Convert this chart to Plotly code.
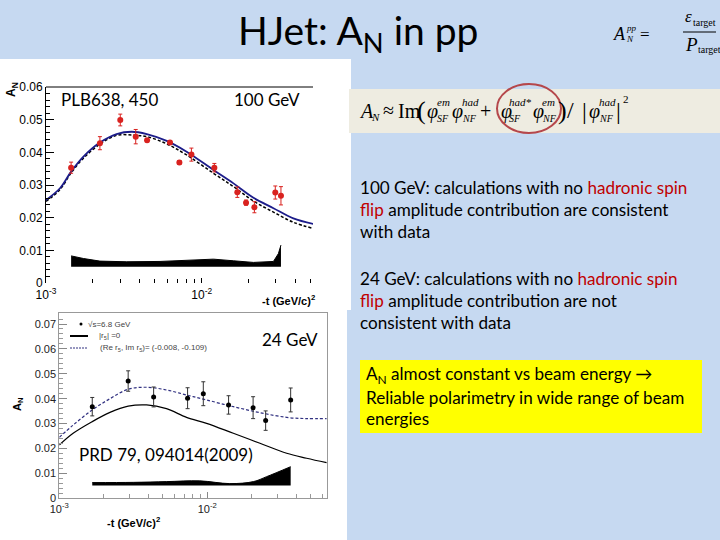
import plotly.graph_objects as go

# ---------------- data: 100 GeV (top panel) ----------------
t100 = [0.00145, 0.00222, 0.0030, 0.00377, 0.00446, 0.00626, 0.00719, 0.00859,
        0.01206, 0.01694, 0.01927, 0.0218, 0.0297, 0.0323]
an100 = [0.0353, 0.0428, 0.0499, 0.0448, 0.0437, 0.0430, 0.0369, 0.0393,
         0.0353, 0.0278, 0.0246, 0.0232, 0.0277, 0.0267]
err100 = [0.0017, 0.0020, 0.0018, 0.0022, 0.0005, 0.0005, 0.0006, 0.0020,
          0.0013, 0.0016, 0.0008, 0.0017, 0.0020, 0.0028]
tcurve100 = [0.001, 0.00123, 0.00145, 0.00174, 0.00222, 0.00284, 0.00355, 0.00444,
             0.00596, 0.0080, 0.0119, 0.0160, 0.0215, 0.0289, 0.0388, 0.0521]
blue100 = [0.0254, 0.0290, 0.0341, 0.0387, 0.0430, 0.0456, 0.0463, 0.0456,
           0.0435, 0.0402, 0.0346, 0.0305, 0.0261, 0.0229, 0.0198, 0.0181]
dash100 = [0.0250, 0.0286, 0.0337, 0.0382, 0.0425, 0.0452, 0.0453, 0.0448,
           0.0426, 0.0392, 0.0336, 0.0295, 0.0251, 0.0217, 0.0186, 0.0167]
tband100 = [0.00145, 0.00174, 0.00222, 0.0033, 0.0054, 0.0080, 0.0119, 0.0160,
            0.0215, 0.0289, 0.0311, 0.0323]
bandtop100 = [0.0083, 0.0075, 0.0067, 0.0065, 0.0066, 0.0070, 0.0073, 0.0068,
              0.0063, 0.0066, 0.0090, 0.0116]
bandlow100 = [0.0050] * len(tband100)

# ---------------- data: 24 GeV (bottom panel) ----------------
t24 = [0.00167, 0.00292, 0.00434, 0.00736, 0.00940, 0.01393, 0.0204, 0.0248, 0.0366]
an24 = [0.0368, 0.0471, 0.0407, 0.0402, 0.0420, 0.0375, 0.0364, 0.0312, 0.0395]
err24 = [0.0037, 0.0041, 0.0040, 0.0042, 0.0048, 0.0037, 0.0044, 0.0039, 0.0048]
tcurve24 = [0.001, 0.00124, 0.00167, 0.0022, 0.00292, 0.00389, 0.0053, 0.00724,
            0.00989, 0.0150, 0.0227, 0.0344, 0.0469, 0.0640]
dash24 = [0.0245, 0.0294, 0.0355, 0.0400, 0.0438, 0.0446, 0.0435, 0.0415,
          0.0395, 0.0368, 0.0344, 0.0325, 0.0320, 0.0320]
solid24 = [0.0214, 0.0261, 0.0308, 0.0345, 0.0370, 0.0375, 0.0360, 0.0325,
           0.0301, 0.0261, 0.0221, 0.0181, 0.0161, 0.0143]
tband24 = [0.00167, 0.00316, 0.0053, 0.0089, 0.0142, 0.0205, 0.0252, 0.0366]
bandtop24 = [0.0063, 0.0064, 0.0067, 0.0070, 0.0059, 0.0067, 0.0087, 0.0127]
bandlow24 = [0.0051] * len(tband24)

xmajor = [0.001, 0.01]
xmajor_text = ["10<sup>-3</sup>", "10<sup>-2</sup>"]
xminor = [0.002, 0.003, 0.004, 0.005, 0.006, 0.007, 0.008, 0.009,
          0.02, 0.03, 0.04, 0.05, 0.06]
ytop_vals = [0, 0.01, 0.02, 0.03, 0.04, 0.05, 0.06]
ytop_text = ["0", "0.01", "0.02", "0.03", "0.04", "0.05", "0.06"]
ybot_vals = [0, 0.01, 0.02, 0.03, 0.04, 0.05, 0.06, 0.07]
ybot_text = ["0", "0.01", "0.02", "0.03", "0.04", "0.05", "0.06", "0.07"]

BG = "#c6d9f1"
RED_TXT = "#c00000"
TXT_FONT = "Lato"


def X(px):
    return px / 720.0


def Y(py):
    return 1 - py / 540.0


fig = go.Figure()

# ---- top panel traces ----
fig.add_trace(go.Scatter(x=tband100, y=bandlow100, mode="lines", line=dict(color="black", width=0),
                         showlegend=False, xaxis="x", yaxis="y", hoverinfo="skip"))
fig.add_trace(go.Scatter(x=tband100, y=bandtop100, mode="lines", line=dict(color="black", width=1),
                         fill="tonexty", fillcolor="black", showlegend=False, xaxis="x", yaxis="y"))
fig.add_trace(go.Scatter(x=tcurve100, y=dash100, mode="lines", line=dict(color="black", width=1.5, dash="3px,2px"),
                         line_shape="spline", showlegend=False, xaxis="x", yaxis="y"))
fig.add_trace(go.Scatter(x=tcurve100, y=blue100, mode="lines", line=dict(color="#1c1c8a", width=1.8),
                         line_shape="spline", showlegend=False, xaxis="x", yaxis="y"))
fig.add_trace(go.Scatter(x=t100, y=an100, mode="markers", marker=dict(color="#d9221f", size=6),
                         error_y=dict(type="data", array=err100, color="#d9221f", thickness=1, width=2),
                         showlegend=False, xaxis="x", yaxis="y"))

# ---- bottom panel traces ----
fig.add_trace(go.Scatter(x=tband24, y=bandlow24, mode="lines", line=dict(color="black", width=0),
                         showlegend=False, xaxis="x2", yaxis="y2", hoverinfo="skip"))
fig.add_trace(go.Scatter(x=tband24, y=bandtop24, mode="lines", line=dict(color="black", width=1),
                         line_shape="spline", fill="tonexty", fillcolor="black", showlegend=False,
                         xaxis="x2", yaxis="y2"))
fig.add_trace(go.Scatter(x=tcurve24, y=solid24, mode="lines", line=dict(color="black", width=1.2),
                         line_shape="spline", showlegend=False, xaxis="x2", yaxis="y2"))
fig.add_trace(go.Scatter(x=tcurve24, y=dash24, mode="lines", line=dict(color="#303080", width=1.2, dash="3px,2px"),
                         line_shape="spline", showlegend=False, xaxis="x2", yaxis="y2"))
fig.add_trace(go.Scatter(x=t24, y=an24, mode="markers", marker=dict(color="black", size=5),
                         error_y=dict(type="data", array=err24, color="#333333", thickness=1, width=2),
                         showlegend=False, xaxis="x2", yaxis="y2"))

axfont_top = dict(family="Liberation Sans", size=12, color="black")
axfont_bot = dict(family="Liberation Sans", size=11, color="#222222")

fig.update_layout(
    width=720, height=540, margin=dict(l=0, r=0, t=0, b=0, autoexpand=False),
    paper_bgcolor=BG, plot_bgcolor="rgba(0,0,0,0)",
    xaxis=dict(type="log", range=[-3, -1.285], domain=[X(46), X(313)], anchor="y", automargin=False,
               tickmode="array", tickvals=xmajor, ticktext=xmajor_text, tickangle=0, ticklabelstandoff=3,
               ticks="inside", ticklen=5, tickcolor="black",
               minor=dict(tickmode="array", tickvals=xminor, ticks="inside", ticklen=4, tickcolor="black"),
               showline=False, showgrid=False, zeroline=False, tickfont=axfont_top),
    yaxis=dict(range=[0, 0.06], domain=[Y(283), Y(87)], anchor="x", automargin=False,
               tickmode="array", tickvals=ytop_vals, ticktext=ytop_text,
               ticks="inside", ticklen=8, tickcolor="black", showline=True, linecolor="black", linewidth=1,
               showgrid=False, zeroline=False, tickfont=axfont_top,
               minor=dict(dtick=0.002, ticks="inside", ticklen=4, tickcolor="black")),
    xaxis2=dict(type="log", range=[-3, -1.191], domain=[X(59.3), X(327)], anchor="y2", automargin=False,
                tickmode="array", tickvals=xmajor, ticktext=xmajor_text, tickangle=0,
                ticks="inside", ticklen=6, tickcolor="#888888",
                minor=dict(tickmode="array", tickvals=xminor, ticks="inside", ticklen=4, tickcolor="#999999"),
                showline=True, linecolor="#999999", linewidth=1, mirror=True,
                showgrid=False, zeroline=False, tickfont=axfont_bot),
    yaxis2=dict(range=[0, 0.0743], domain=[Y(498.3), Y(313.3)], anchor="x2", automargin=False,
                tickmode="array", tickvals=ybot_vals, ticktext=ybot_text,
                ticks="inside", ticklen=8, tickcolor="#888888", showline=True, linecolor="#999999",
                linewidth=1, mirror=True, showgrid=False, zeroline=False, tickfont=axfont_bot,
                minor=dict(dtick=0.002, ticks="inside", ticklen=4, tickcolor="#999999")),
)

shapes = []
# white panels behind the charts
shapes.append(dict(type="rect", xref="paper", yref="paper", x0=0, x1=X(351), y0=Y(310), y1=Y(59),
                   fillcolor="white", line=dict(width=0), layer="below"))
shapes.append(dict(type="rect", xref="paper", yref="paper", x0=0, x1=X(347), y0=0, y1=Y(309),
                   fillcolor="white", line=dict(width=0), layer="below"))
# top frame line of upper chart
shapes.append(dict(type="line", xref="paper", yref="paper", x0=X(46), x1=X(313), y0=Y(87), y1=Y(87),
                   line=dict(color="black", width=1)))
# beige formula strip
shapes.append(dict(type="rect", xref="paper", yref="paper", x0=X(349), x1=1, y0=Y(133), y1=Y(89),
                   fillcolor="#eeece1", line=dict(width=0), layer="below"))
# yellow box
shapes.append(dict(type="rect", xref="paper", yref="paper", x0=X(360), x1=X(702), y0=Y(433), y1=Y(360),
                   fillcolor="#ffff00", line=dict(width=0), layer="below"))
# red ellipse
shapes.append(dict(type="circle", xref="paper", yref="paper", x0=X(497), x1=X(561), y0=Y(133), y1=Y(84),
                   line=dict(color="#b5474b", width=2)))
# fraction bar (top right formula)
shapes.append(dict(type="line", xref="paper", yref="paper", x0=X(683), x1=X(716), y0=Y(32), y1=Y(32),
                   line=dict(color="black", width=1)))
# legend samples of lower chart
shapes.append(dict(type="circle", xref="paper", yref="paper", x0=X(79.5), x1=X(82.5), y0=Y(325.5), y1=Y(322.5),
                   fillcolor="black", line=dict(color="black", width=0)))
shapes.append(dict(type="line", xref="paper", yref="paper", x0=X(70), x1=X(88), y0=Y(336), y1=Y(336),
                   line=dict(color="black", width=2)))
shapes.append(dict(type="line", xref="paper", yref="paper", x0=X(70), x1=X(87), y0=Y(348), y1=Y(348),
                   line=dict(color="#303080", width=1, dash="2px,1px")))

anns = []


def ann(text, x, y, size, color="black", family=TXT_FONT, xanchor="left", yanchor="middle", angle=0):
    anns.append(dict(text=text, x=X(x), y=Y(y), xref="paper", yref="paper", showarrow=False,
                     xanchor=xanchor, yanchor=yanchor, textangle=angle, borderpad=0,
                     font=dict(size=size, color=color, family=family)))


# title
ann("HJet: A<sub>N</sub> in pp", 358, 33, 39, xanchor="center")

# chart annotations
ann("PLB638, 450", 60, 100, 17)
ann("100 GeV", 233, 100, 17)
ann("24 GeV", 261, 339, 17)
ann("PRD 79, 094014(2009)", 78, 454, 17)

# axis titles
ann("<b>A<sub>N</sub></b>", 12, 90, 12, family="Liberation Sans", xanchor="center", angle=-90)
ann("<b>-t (GeV/c)<sup>2</sup></b>", 316, 300, 11, family="Liberation Sans", xanchor="right")
ann("<b>A<sub>N</sub></b>", 18, 404, 11, family="Liberation Sans", xanchor="center", angle=-90)
ann("<b>-t (GeV/c)<sup>2</sup></b>", 133, 522, 11, family="Liberation Sans", xanchor="center")

# legend texts in lower chart
ann("√s=6.8 GeV", 87, 324, 8, color="#444444", family="Liberation Sans")
ann("|r<sub>5</sub>| =0", 98, 336, 8, color="#444444", family="Liberation Sans")
ann("(Re r<sub>5</sub>, Im r<sub>5</sub>)= (-0.008, -0.109)", 99, 348, 8, color="#444444", family="Liberation Sans")

# right side text
red = lambda s: "<span style='color:%s'>%s</span>" % (RED_TXT, s)
FS = 17.1
ann("100 GeV: calculations with no " + red("hadronic spin"), 359, 188, FS)
ann(red("flip") + " amplitude contribution are consistent", 359, 210, FS)
ann("with data", 359, 232, FS)
ann("24 GeV: calculations with no " + red("hadronic spin"), 359, 278, FS)
ann(red("flip") + " amplitude contribution are not", 359, 300, FS)
ann("consistent with data", 359, 322, FS)
ann("A<sub>N</sub> almost constant vs beam energy \u2192", 365, 375, FS)
ann("Reliable polarimetry in wide range of beam", 365, 397, FS)
ann("energies", 365, 418, FS)

# top-right formula A_N^pp = eps_target / P_target
SER = "Liberation Serif"
ann("<i>A</i>", 612, 34, 18, family=SER)
ann("<i>pp</i>", 625, 28, 9, family=SER)
ann("<i>N</i>", 625, 39, 9, family=SER)
ann("=", 639, 34, 17, family=SER)
ann("<i>\u03b5</i>", 684, 17, 17, family=SER)
ann("target", 692, 22, 10, family=SER)
ann("<i>P</i>", 684, 44, 19, family=SER)
ann("target", 697, 50, 10, family=SER)

# main formula in beige strip
ann("<i>A</i>", 358, 111, 20, family=SER)
ann("<i>N</i>", 370, 117, 11, family=SER)
ann("\u2248", 382, 110, 20, family=SER)
ann("Im", 397, 111, 20, family=SER)
ann("(", 416, 110, 26, family=SER)
phis = [(426, 10, "em", "SF"), (451, 10, "had", "NF"), (500, 8, "had*", "SF"),
        (532, 9, "em", "NF"), (588, 10, "had", "NF")]
for px, off, sup, sub in phis:
    ann("<i>\u03c6</i>", px, 112, 20, family=SER)
    ann("<i>%s</i>" % sup, px + off, 102, 11, family=SER)
    ann("<i>%s</i>" % sub, px + off, 118, 10, family=SER)
ann("+", 479, 111, 20, family=SER)
ann(")", 557, 110, 26, family=SER)
ann("/", 566, 110, 24, family=SER)
ann("|", 581, 111, 24, family=SER)
ann("|", 615, 111, 24, family=SER)
ann("2", 622, 99, 11, family=SER)

fig.update_layout(shapes=shapes, annotations=anns)
fig.write_html("out.html", config={"displayModeBar": False},
               post_script="document.body.style.margin='0';document.body.style.overflow='hidden';")
